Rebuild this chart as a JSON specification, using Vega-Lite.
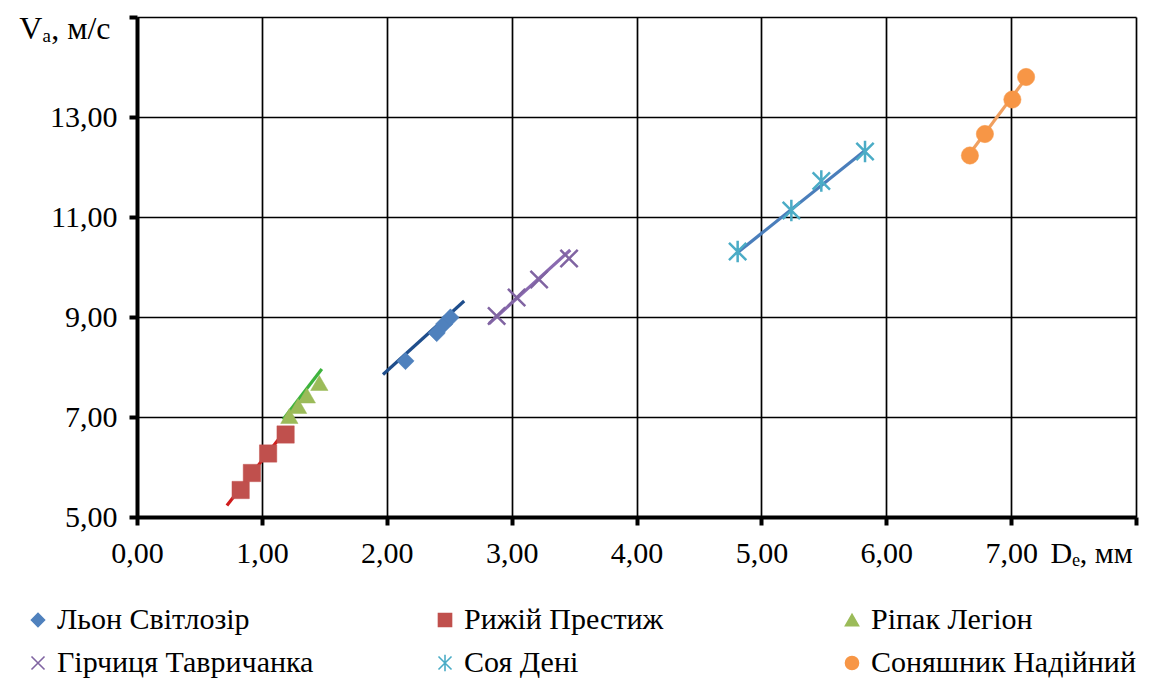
{
  "$schema": "https://vega.github.io/schema/vega-lite/v6.json",
  "width": 999,
  "height": 500,
  "autosize": "none",
  "padding": {"left": 137, "top": 17, "right": 27, "bottom": 169},
  "background": "white",
  "config": {
    "font": "Liberation Serif",
    "view": {"stroke": null},
    "style": {"guide-label": {"font": "Liberation Serif"}},
    "axis": {
      "domainColor": "black",
      "domainWidth": 4,
      "gridColor": "black",
      "gridWidth": 1.7,
      "gridOpacity": 1,
      "tickColor": "black",
      "tickWidth": 4,
      "tickSize": 8,
      "labelFont": "Liberation Serif",
      "labelFontSize": 30,
      "labelColor": "black",
      "title": null
    },
    "legend": {"labelFont": "Liberation Serif"}
  },
  "datasets": {
    "points": [
      {"series": "Льон Світлозір", "de": 2.15, "va": 8.12},
      {"series": "Льон Світлозір", "de": 2.40, "va": 8.68},
      {"series": "Льон Світлозір", "de": 2.46, "va": 8.86},
      {"series": "Льон Світлозір", "de": 2.51, "va": 8.99},
      {"series": "Рижій Престиж", "de": 0.83, "va": 5.54},
      {"series": "Рижій Престиж", "de": 0.92, "va": 5.88},
      {"series": "Рижій Престиж", "de": 1.05, "va": 6.27},
      {"series": "Рижій Престиж", "de": 1.19, "va": 6.65},
      {"series": "Ріпак Легіон", "de": 1.22, "va": 7.02},
      {"series": "Ріпак Легіон", "de": 1.29, "va": 7.22},
      {"series": "Ріпак Легіон", "de": 1.36, "va": 7.43},
      {"series": "Ріпак Легіон", "de": 1.46, "va": 7.68},
      {"series": "Гірчиця Тавричанка", "de": 2.88, "va": 9.02},
      {"series": "Гірчиця Тавричанка", "de": 3.04, "va": 9.39},
      {"series": "Гірчиця Тавричанка", "de": 3.22, "va": 9.75},
      {"series": "Гірчиця Тавричанка", "de": 3.46, "va": 10.17},
      {"series": "Соя Дені", "de": 4.81, "va": 10.31},
      {"series": "Соя Дені", "de": 5.24, "va": 11.13},
      {"series": "Соя Дені", "de": 5.48, "va": 11.72},
      {"series": "Соя Дені", "de": 5.83, "va": 12.31},
      {"series": "Соняшник Надійний", "de": 6.67, "va": 12.23},
      {"series": "Соняшник Надійний", "de": 6.79, "va": 12.66},
      {"series": "Соняшник Надійний", "de": 7.01, "va": 13.35},
      {"series": "Соняшник Надійний", "de": 7.12, "va": 13.80}
    ],
    "trend": [
      {"series": "Льон Світлозір", "de": 1.97, "va": 7.85},
      {"series": "Льон Світлозір", "de": 2.62, "va": 9.32},
      {"series": "Рижій Престиж", "de": 0.72, "va": 5.23},
      {"series": "Рижій Престиж", "de": 1.21, "va": 6.80},
      {"series": "Ріпак Легіон", "de": 1.17, "va": 6.95},
      {"series": "Ріпак Легіон", "de": 1.48, "va": 7.96},
      {"series": "Гірчиця Тавричанка", "de": 2.82, "va": 8.87},
      {"series": "Гірчиця Тавричанка", "de": 3.47, "va": 10.34},
      {"series": "Соя Дені", "de": 4.80, "va": 10.27},
      {"series": "Соя Дені", "de": 5.84, "va": 12.35},
      {"series": "Соняшник Надійний", "de": 6.66, "va": 12.24},
      {"series": "Соняшник Надійний", "de": 7.12, "va": 13.78}
    ]
  },
  "encoding": {
    "x": {
      "field": "de", "type": "quantitative",
      "scale": {"domain": [0, 8], "nice": false, "zero": false},
      "axis": {
        "values": [0, 1, 2, 3, 4, 5, 6, 7, 8],
        "labelExpr": "datum.value >= 8 ? 'Dₑ, мм' : replace(format(datum.value, '.2f'), '.', ',')",
        "labelFont": "Liberation Serif",
        "labelAlign": {"condition": {"test": "datum.value >= 8", "value": "left"}, "value": "center"},
        "labelOffset": {"condition": {"test": "datum.value >= 8", "value": -86}, "value": 0},
        "labelPadding": 13,
        "labelFlush": false,
        "labelOverlap": false,
        "labelBound": false
      }
    },
    "y": {
      "field": "va", "type": "quantitative",
      "scale": {"domain": [5, 15], "nice": false, "zero": false},
      "axis": {
        "values": [5, 7, 9, 11, 13, 15],
        "labelExpr": "datum.value >= 15 ? 'Vₐ, м/с' : replace(format(datum.value, '.2f'), '.', ',')",
        "labelFont": "Liberation Serif",
        "labelFontSize": {"condition": {"test": "datum.value >= 15", "value": 32}, "value": 30},
        "labelOffset": {"condition": {"test": "datum.value >= 15", "value": 11}, "value": 0},
        "labelPadding": {"condition": {"test": "datum.value >= 15", "value": 19}, "value": 12},
        "labelFlush": false,
        "labelOverlap": false,
        "labelBound": false
      }
    }
  },
  "layer": [
    {
      "data": {"name": "trend"},
      "mark": {"type": "line", "strokeWidth": 3.2},
      "encoding": {
        "detail": {"field": "series"},
        "color": {
          "field": "series", "type": "nominal", "legend": null,
          "scale": {
            "domain": ["Льон Світлозір", "Рижій Престиж", "Ріпак Легіон", "Гірчиця Тавричанка", "Соя Дені", "Соняшник Надійний"],
            "range": ["#1F4E8C", "#D01C1C", "#3DB33D", "#8A6AB0", "#4A7EBB", "#F0A060"]
          }
        }
      }
    },
    {
      "data": {"name": "points"},
      "mark": {"type": "point", "filled": true, "size": 300, "opacity": 1},
      "encoding": {
        "fill": {
          "field": "series", "type": "nominal",
          "scale": {
            "domain": ["Льон Світлозір", "Рижій Престиж", "Ріпак Легіон", "Гірчиця Тавричанка", "Соя Дені", "Соняшник Надійний"],
            "range": ["#4F81BD", "#C0504D", "#9BBB59", "#8064A2", "#4BACC6", "#F79646"]
          },
          "legend": {
            "title": null, "orient": "none", "legendX": -114, "legendY": 588,
            "direction": "horizontal", "columns": 3, "gridAlign": "all",
            "columnPadding": 108, "rowPadding": 13, "symbolSize": 170,
            "symbolStrokeWidth": 1.6, "symbolOffset": 0, "labelOffset": 4,
            "labelFont": "Liberation Serif", "labelFontSize": 30, "labelColor": "black", "labelLimit": 400
          }
        },
        "stroke": {
          "field": "series", "type": "nominal",
          "scale": {
            "domain": ["Льон Світлозір", "Рижій Престиж", "Ріпак Легіон", "Гірчиця Тавричанка", "Соя Дені", "Соняшник Надійний"],
            "range": ["#4F81BD", "#C0504D", "#9BBB59", "#8064A2", "#4BACC6", "#F79646"]
          },
          "legend": {
            "title": null, "orient": "none", "legendX": -114, "legendY": 588,
            "direction": "horizontal", "columns": 3, "gridAlign": "all",
            "columnPadding": 108, "rowPadding": 13, "symbolSize": 170,
            "symbolStrokeWidth": 1.6, "symbolOffset": 0, "labelOffset": 4,
            "labelFont": "Liberation Serif", "labelFontSize": 30, "labelColor": "black", "labelLimit": 400
          }
        },
        "shape": {
          "field": "series", "type": "nominal",
          "scale": {
            "domain": ["Льон Світлозір", "Рижій Престиж", "Ріпак Легіон", "Гірчиця Тавричанка", "Соя Дені", "Соняшник Надійний"],
            "range": ["diamond", "square", "triangle-up", "M-1,-1L1,1M-1,1L1,-1", "M-1,-1L1,1M-1,1L1,-1M0,-1.25L0,1.25", "circle"]
          },
          "legend": {
            "title": null, "orient": "none", "legendX": -114, "legendY": 588,
            "direction": "horizontal", "columns": 3, "gridAlign": "all",
            "columnPadding": 108, "rowPadding": 13, "symbolSize": 170,
            "symbolStrokeWidth": 1.6, "symbolOffset": 0, "labelOffset": 4,
            "labelFont": "Liberation Serif", "labelFontSize": 30, "labelColor": "black", "labelLimit": 400
          }
        },
        "strokeWidth": {
          "condition": {"test": "datum.series === 'Гірчиця Тавричанка' || datum.series === 'Соя Дені'", "value": 2.5},
          "value": 0.5
        }
      }
    }
  ],
  "resolve": {"scale": {"color": "independent"}}
}
